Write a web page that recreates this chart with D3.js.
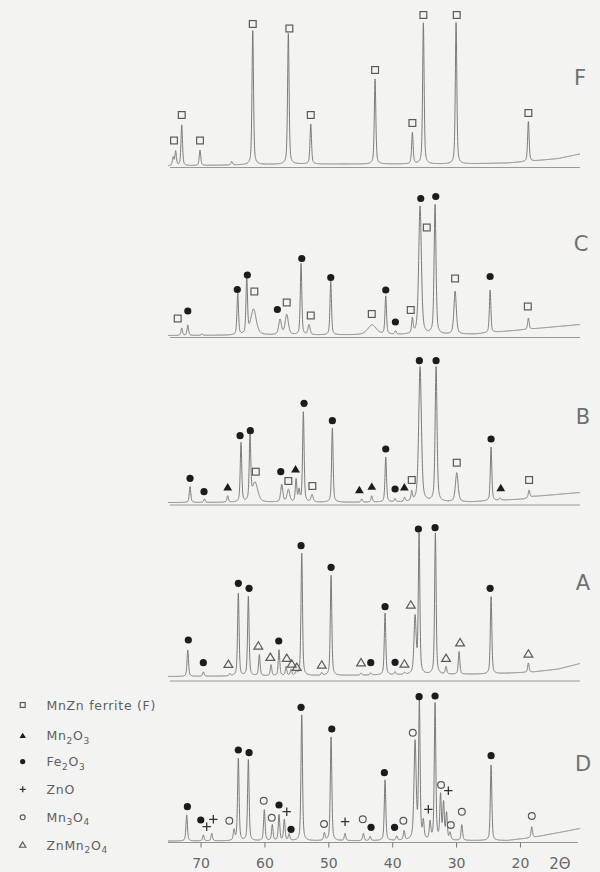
<!DOCTYPE html>
<html><head><meta charset="utf-8">
<script src="https://cdn.jsdelivr.net/npm/d3@7"></script>
<style>
html,body{margin:0;padding:0;background:#f3f3f2;}
svg{display:block;}
text{font-family:"DejaVu Sans","Liberation Sans",sans-serif;fill:#666;}
</style></head><body>
<svg id="c" width="600" height="872"></svg>
<script>
// ---------------- DATA ----------------
const panelNames = ["F","C","B","A","D"];
const xTicks = [70,60,50,40,30,20];
const xLabel = "2\u0398";

// peaks: [2θ, peak top above baseline line, optional width (deg)]
const peaksF = [[74.3,10],[73.9,16],[72.95,42.5],[70.09,17.5],[65.12,6],[61.83,137.5],[56.26,134],[52.75,43.5],[42.68,88.5],[36.84,34.5],[35.12,144.5],[30.0,145],[18.68,46]];
const peaksC = [[72.95,9.5],[72.0,12.5],[69.8,3.5],[64.18,44],[62.77,57.5],[61.71,28,1.0],[57.56,17.5,0.5],[56.51,22.5,0.6],[54.27,74],[53.02,12.5,0.4],[49.62,56],[43.15,12.5,1.6],[41.01,41],[39.47,6],[36.84,17.5],[35.64,131,0.5],[33.29,132.5,0.35],[30.15,46,0.45],[24.67,47.5],[18.68,19.5]];
const peaksB = [[71.65,18.5],[69.41,6],[65.75,9],[63.67,62],[62.26,67],[61.47,22,1.0],[57.29,20,0.4],[56.26,15,0.5],[55.05,25],[54.58,14],[53.91,93],[52.55,10,0.4],[49.37,77],[44.77,6],[43.2,9],[41.01,48],[39.55,6],[38.06,7],[36.94,12],[35.64,138,0.5],[33.13,138,0.35],[29.89,32,0.5],[24.52,58],[23.11,7],[18.57,15]];
const peaksA = [[72.0,31],[69.57,9],[65.39,7],[64.09,87.7],[62.52,84.3],[60.8,26],[58.97,16],[57.72,31],[56.62,14],[55.84,11],[55.05,9],[54.16,127.7],[51.03,8],[49.57,106],[44.88,8],[43.36,8],[41.12,67.7],[39.55,9],[38.06,8],[36.42,63,0.4],[35.79,146],[33.24,147.7],[31.57,14],[29.53,29.3],[24.52,84.3],[18.68,18]];
const peaksD = [[72.17,27.5],[69.57,7.5],[68.25,9],[64.76,12],[64.09,84],[62.52,82.5],[60.02,32.5],[58.77,17.5],[57.72,27.5],[56.89,22.5],[56.15,8],[54.16,127.5],[50.62,9],[49.57,105.8],[47.38,9],[44.51,9],[43.46,6],[41.12,62.5],[39.29,6],[38.14,11],[36.42,99.5,0.4],[35.75,139],[35.12,19],[34.07,19],[33.29,139],[32.43,46],[31.96,38],[31.49,28],[30.94,9],[29.1,17.5],[24.52,77.5],[18.15,15.8]];

// background level above baseline line: [2θ, level]
const bgF = [[75.1,1.5],[55,3.5],[30,3.5],[22,4.5],[18,6.5],[14,9],[10.6,13.5]];
const bgC = [[75.1,2],[30,3],[27,3.5],[10.6,13]];
const bgB = [[75.1,2.5],[28,3],[19.5,6],[18,8.5],[10.6,12.5]];
const bgA = [[75.1,4.5],[50,5.5],[25,7],[18,9],[14,12],[10.6,17.5]];
const bgD = [[75.1,1.5],[22,2],[18,5],[10.6,14]];

// phase markers: [2θ, phase, height of marker]
const markersF = [[74.16,"F",27],[72.95,"F",52.5],[70.09,"F",27],[61.83,"F",143.5],[56.1,"F",139],[52.75,"F",52.5],[42.68,"F",97.5],[36.84,"F",44.5],[35.12,"F",152.5],[29.9,"F",152.5],[18.68,"F",54.5]];
const markersC = [[73.58,"F",19],[72.0,"Fe",26.5],[64.25,"Fe",48],[62.68,"Fe",62.5],[61.58,"F",46],[57.98,"Fe",28],[56.51,"F",35],[54.16,"Fe",79],[52.75,"F",22],[49.62,"Fe",60],[43.2,"F",23.5],[41.01,"Fe",47.5],[39.5,"Fe",15.5],[37.1,"F",27.5],[35.53,"Fe",139],[34.59,"F",110],[33.18,"Fe",141],[30.16,"F",59],[24.67,"Fe",61],[18.77,"F",31]];
const markersB = [[71.65,"Fe",26.7],[69.46,"Fe",13.3],[65.75,"M2",17.7],[63.82,"Fe",69.3],[62.21,"Fe",74.3],[61.36,"F",33.3],[57.45,"Fe",33.3],[56.26,"F",24],[55.13,"M2",35.7],[53.8,"Fe",101.7],[52.5,"F",19],[49.37,"Fe",84.3],[45.14,"M2",15],[43.2,"M2",18.3],[41.01,"Fe",56],[39.55,"Fe",16],[38.1,"M2",17.7],[36.94,"F",25],[35.75,"Fe",144.3],[33.13,"Fe",144.3],[29.89,"F",42.3],[24.52,"Fe",66],[23.0,"M2",17],[18.57,"F",25]];
const markersA = [[71.92,"Fe",41],[69.57,"Fe",18.3],[65.65,"ZM",16.7],[64.09,"Fe",97.7],[62.41,"Fe",92.7],[60.96,"ZM",35],[59.08,"ZM",23.7],[57.76,"Fe",40],[56.51,"ZM",22.7],[55.73,"ZM",17],[54.94,"ZM",13.7],[54.27,"Fe",135.3],[51.03,"ZM",16],[49.57,"Fe",113.7],[44.88,"ZM",18.3],[43.36,"Fe",18.3],[41.12,"Fe",74.3],[39.55,"Fe",18.7],[38.09,"ZM",17],[37.09,"ZM",76],[35.9,"Fe",152],[33.29,"Fe",153.3],[31.57,"ZM",22.7],[29.37,"ZM",38.3],[24.67,"Fe",92.7],[18.68,"ZM",27]];
const markersD = [[72.07,"Fe",35.8],[69.97,"Fe",22.5],[69.04,"Z",15.8],[68.0,"Z",23.2],[65.5,"M3",21.8],[64.09,"Fe",92.5],[62.41,"Fe",89.8],[60.11,"M3",41.8],[58.86,"M3",24.8],[57.72,"Fe",37.5],[56.51,"Z",30.8],[55.84,"Fe",13.2],[54.27,"Fe",135.2],[50.67,"M3",18.5],[49.46,"Fe",113.5],[47.38,"Z",20.8],[44.61,"M3",23.2],[43.31,"Fe",15.2],[41.23,"Fe",69.8],[39.63,"Fe",15.2],[38.25,"M3",21.8],[36.78,"M3",109.8],[35.79,"Fe",145.8],[34.34,"Z",33.2],[33.29,"Fe",146.5],[32.35,"M3",57.5],[31.21,"Z",51.8],[30.83,"M3",17.5],[29.1,"M3",30.8],[24.52,"Fe",86.8],[18.15,"M3",26.5]];

const legendSymbols = ["F","M2","Fe","Z","M3","ZM"];
const legendLabels = ["MnZn ferrite (F)","Mn_2O_3","Fe_2O_3","ZnO","Mn_3O_4","ZnMn_2O_4"];

// ---------------- LAYOUT ----------------
const peakSets = {F:peaksF,C:peaksC,B:peaksB,A:peaksA,D:peaksD};
const bgSets = {F:bgF,C:bgC,B:bgB,A:bgA,D:bgD};
const markerSets = {F:markersF,C:markersC,B:markersB,A:markersA,D:markersD};
const layout = {
  F:{axisY:167.5, lx:580, ly:77},
  C:{axisY:337.5, lx:581, ly:243},
  B:{axisY:505,   lx:583, ly:416},
  A:{axisY:681,   lx:583, ly:582},
  D:{axisY:842.5, lx:583, ly:763}
};

const svg = d3.select("#c");
const x = d3.scaleLinear().domain([75.1,10.6]).range([168,580]);
const grid = d3.range(75.1, 10.59, -0.02);
const W0 = 0.28, ETA = 0.5;

function profile(d, w){
  const u = d / w;
  return ETA/(1+4*u*u) + (1-ETA)*Math.exp(-4*Math.LN2*u*u);
}

const inkDark = "#1c1c1c", inkLine = "#757575", inkSym = "#5a5a5a";

function drawSymbol(g, type, cx, cy, s){
  s = s || 1;
  if(type==="F"){
    const a = 3.4*s;
    g.append("rect").attr("x",cx-a).attr("y",cy-a).attr("width",2*a).attr("height",2*a)
      .attr("fill","none").attr("stroke",inkSym).attr("stroke-width",1.2);
  } else if(type==="Fe"){
    g.append("circle").attr("cx",cx).attr("cy",cy).attr("r",3.6*s).attr("fill",inkDark);
  } else if(type==="M2"){
    const a = 4.2*s;
    g.append("path").attr("d",`M${cx},${cy-a}L${cx+a*1.05},${cy+a*0.75}L${cx-a*1.05},${cy+a*0.75}Z`).attr("fill",inkDark);
  } else if(type==="ZM"){
    const a = 4.2*s;
    g.append("path").attr("d",`M${cx},${cy-a}L${cx+a*1.05},${cy+a*0.75}L${cx-a*1.05},${cy+a*0.75}Z`)
      .attr("fill","none").attr("stroke",inkSym).attr("stroke-width",1.2);
  } else if(type==="M3"){
    g.append("circle").attr("cx",cx).attr("cy",cy).attr("r",3.4*s).attr("fill","none")
      .attr("stroke",inkSym).attr("stroke-width",1.2);
  } else if(type==="Z"){
    const a = 4.2*s;
    g.append("path").attr("d",`M${cx-a},${cy}H${cx+a}M${cx},${cy-a}V${cy+a}`)
      .attr("stroke","#333").attr("stroke-width",1.3).attr("fill","none");
  }
}

panelNames.forEach(name=>{
  const L = layout[name];
  const y = d3.scaleLinear().domain([0,150]).range([L.axisY, L.axisY-150]);
  const bgData = bgSets[name];
  const bg = d3.scaleLinear().domain(bgData.map(d=>d[0])).range(bgData.map(d=>d[1])).clamp(true);
  const peaks = peakSets[name].map(p=>({t:p[0], amp:Math.max(0,p[1]-bg(p[0])), w:p[2]||W0}));
  const curve = grid.map(t=>{
    let v = bg(t);
    for(const p of peaks){ const d=t-p.t; if(Math.abs(d)<8) v += p.amp*profile(d,p.w); }
    return [t,v];
  });
  const g = svg.append("g");
  if(name==="D"){
    const ax = g.append("g").attr("transform",`translate(0,${L.axisY})`)
      .call(d3.axisBottom(x).tickValues(xTicks).tickSize(5).tickSizeOuter(0).tickPadding(10.5));
    ax.select(".domain").attr("stroke","#8a8a8a").attr("stroke-width",0.9).attr("d",`M${x.range()[0]},0H${x.range()[1]-2}`);
    ax.selectAll(".tick line").attr("stroke","#777").attr("stroke-width",1);
    ax.selectAll(".tick text").style("font-size","14px").style("fill","#666")
      .style("font-family","'DejaVu Sans',sans-serif");
    g.append("text").attr("x",560).attr("y",L.axisY+26).attr("text-anchor","middle")
      .style("font-size","15px").text(xLabel);
  } else {
    g.append("line").attr("x1",x.range()[0]+2).attr("x2",x.range()[1])
      .attr("y1",L.axisY).attr("y2",L.axisY).attr("stroke","#8f8f8f").attr("stroke-width",0.9);
  }
  g.append("path").datum(curve)
    .attr("d", d3.line().x(d=>x(d[0])).y(d=>y(d[1])))
    .attr("fill","none").attr("stroke",inkLine).attr("stroke-width",0.95).attr("stroke-linejoin","round");
  markerSets[name].forEach(m=> drawSymbol(g, m[1], x(m[0]), y(m[2]), 1));
  g.append("text").attr("x",L.lx).attr("y",L.ly+8).attr("text-anchor","middle")
    .style("font-size","21px").style("fill","#707070").text(name);
});

// legend
const legG = svg.append("g");
const legY = [705, 735.7, 761.7, 789.3, 817.3, 845];
legendSymbols.forEach((s,i)=>{
  drawSymbol(legG, s, 22.7, legY[i], 0.72);
  const t = legG.append("text").attr("x",46.5).attr("y",legY[i]+4.5)
    .style("font-size","12.5px").style("letter-spacing","0.7px").style("fill","#5e5e5e");
  const parts = legendLabels[i].split(/(_\d)/).filter(p=>p.length);
  let shift = 0;
  parts.forEach(p=>{
    if(p[0]==="_"){
      t.append("tspan").attr("dy",3.5-shift).style("font-size","9px").text(p.slice(1));
      shift = 3.5;
    } else {
      t.append("tspan").attr("dy",-shift).text(p);
      shift = 0;
    }
  });
});
</script>
</body></html>
